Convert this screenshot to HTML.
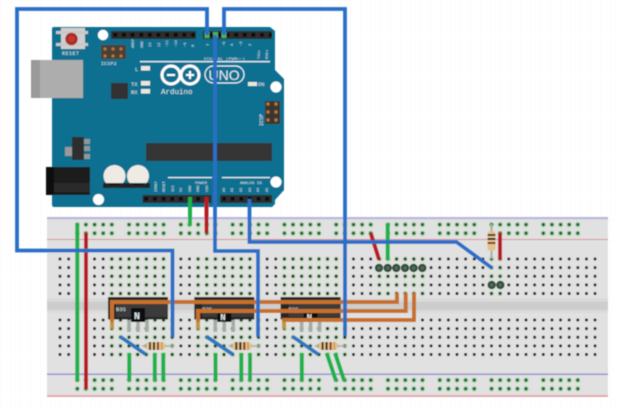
<!DOCTYPE html>
<html>
<head>
<meta charset="utf-8">
<style>
html,body{margin:0;padding:0;background:#fff;width:620px;height:408px;overflow:hidden}
svg{display:block}
text{font-family:"Liberation Mono",monospace;fill:#dfeaf0}
</style>
</head>
<body>
<svg width="620" height="408" viewBox="0 0 620 408" xmlns="http://www.w3.org/2000/svg">
<defs>
<filter id="b" x="-2%" y="-2%" width="104%" height="104%"><feGaussianBlur stdDeviation="0.45"/></filter>
<pattern id="bg" width="10" height="10" patternUnits="userSpaceOnUse"><path d="M10 0H0V10" fill="none" stroke="#f7f7f7" stroke-width="0.6"/></pattern>
<pattern id="hole" x="55.7" y="254.7" width="8.63" height="8.63" patternUnits="userSpaceOnUse"><circle cx="4.315" cy="4.315" r="1.5" fill="#1f2220"/></pattern>
<pattern id="holeB" x="55.7" y="315.7" width="8.63" height="8.63" patternUnits="userSpaceOnUse"><circle cx="4.315" cy="4.315" r="1.5" fill="#1f2220"/></pattern>
<pattern id="halo" x="55.7" y="254.7" width="8.63" height="8.63" patternUnits="userSpaceOnUse"><circle cx="4.315" cy="4.315" r="2.7" fill="#bcdcb8"/></pattern>
<pattern id="haloB" x="55.7" y="315.7" width="8.63" height="8.63" patternUnits="userSpaceOnUse"><circle cx="4.315" cy="4.315" r="2.7" fill="#bcdcb8"/></pattern>
<pattern id="rail" x="73" y="220.3" width="51.78" height="8.63" patternUnits="userSpaceOnUse">
<g id="rg"><circle cx="4.3" cy="4.3" r="2.5" fill="#86cb88"/><circle cx="12.9" cy="4.3" r="2.5" fill="#86cb88"/><circle cx="21.6" cy="4.3" r="2.5" fill="#86cb88"/><circle cx="30.2" cy="4.3" r="2.5" fill="#86cb88"/><circle cx="38.8" cy="4.3" r="2.5" fill="#86cb88"/>
<circle cx="4.3" cy="4.3" r="1.4" fill="#174a2a"/><circle cx="12.9" cy="4.3" r="1.4" fill="#174a2a"/><circle cx="21.6" cy="4.3" r="1.4" fill="#174a2a"/><circle cx="30.2" cy="4.3" r="1.4" fill="#174a2a"/><circle cx="38.8" cy="4.3" r="1.4" fill="#174a2a"/></g>
</pattern>
<pattern id="railB" x="73" y="375.8" width="51.78" height="8.63" patternUnits="userSpaceOnUse"><use href="#rg"/></pattern>
<pattern id="pin" x="111" y="31" width="8.63" height="8" patternUnits="userSpaceOnUse"><rect width="8.63" height="8" fill="#2e2e2e"/><rect x="2.4" y="2" width="3.8" height="3.8" fill="#0e0e0e"/></pattern>
<pattern id="pin2" x="142" y="195" width="8.63" height="8" patternUnits="userSpaceOnUse"><rect width="8.63" height="8" fill="#2e2e2e"/><rect x="2.4" y="2" width="3.8" height="3.8" fill="#0e0e0e"/></pattern>
</defs>
<rect width="620" height="408" fill="#fff"/>
<rect width="620" height="408" fill="url(#bg)"/>
<g filter="url(#b)">
<!-- breadboard -->
<rect x="47" y="217" width="561" height="180" fill="#e1e1e1"/>
<rect x="47" y="217" width="561" height="2.2" fill="#b9b6dc"/>
<rect x="47" y="239" width="561" height="1" fill="#d88f92"/>
<rect x="47" y="373.5" width="561" height="1.4" fill="#8f8fd0"/>
<rect x="47" y="395" width="561" height="2" fill="#e3a9ac"/>
<rect x="47" y="298" width="561" height="3.5" fill="#dadada"/>
<rect x="47" y="301.5" width="561" height="8.5" fill="#cdcdcd"/>
<rect x="47" y="310" width="561" height="3" fill="#dadada"/>
<rect x="73" y="220.3" width="507" height="17.3" fill="url(#rail)"/>
<rect x="73" y="375.8" width="507" height="17.3" fill="url(#railB)"/>
<g>
<rect x="108" y="254.7" width="60" height="43" fill="url(#halo)"/>
<rect x="194" y="254.7" width="60" height="43" fill="url(#halo)"/>
<rect x="280" y="254.7" width="60" height="43" fill="url(#halo)"/>
<rect x="375" y="254.7" width="51" height="43" fill="url(#halo)"/>
<rect x="487.5" y="254.7" width="17" height="43" fill="url(#halo)"/>
<rect x="108" y="315.7" width="69" height="43" fill="url(#haloB)"/>
<rect x="194" y="315.7" width="69" height="43" fill="url(#haloB)"/>
<rect x="280" y="315.7" width="69" height="43" fill="url(#haloB)"/>
</g>
<rect x="55.7" y="254.7" width="543.7" height="43.1" fill="url(#hole)"/>
<rect x="55.7" y="315.7" width="543.7" height="43.1" fill="url(#holeB)"/>

<!-- Arduino -->
<path d="M54 27H270L275 31V70L284 79V190L275 200V204L272 207H54Q52 207 52 204V29Q52 27 54 27Z" fill="#0f6f90"/>
<rect x="31" y="60" width="52" height="38" fill="#adadad"/>
<rect x="31" y="60" width="9" height="38" fill="#999"/>
<rect x="61" y="28" width="24" height="21" fill="#cfcfcf"/>
<rect x="56" y="31" width="32" height="3" fill="#c8c8c8"/><rect x="56" y="43" width="32" height="3" fill="#c8c8c8"/>
<circle cx="71.5" cy="39" r="6.2" fill="#a72a25"/><circle cx="71.5" cy="39" r="3.5" fill="#c8352e"/>
<text x="62" y="55" font-size="5" letter-spacing=".5">RESET</text>
<circle cx="103" cy="35" r="5.2" fill="#fff"/><circle cx="276" cy="87" r="5.5" fill="#fff"/><circle cx="276" cy="182" r="5.5" fill="#fff"/><circle cx="98.5" cy="199.5" r="5.5" fill="#fff"/>
<rect x="111" y="31" width="85" height="8" fill="url(#pin)"/>
<rect x="203" y="31" width="69" height="8" fill="url(#pin)"/>
<rect x="142.5" y="195" width="69" height="8" fill="url(#pin2)"/>
<rect x="220" y="195" width="52" height="8" fill="url(#pin2)"/>
<rect x="101" y="45" width="25" height="14" fill="#4b3f33"/>
<g fill="#b5763c"><circle cx="105" cy="49" r="1.6"/><circle cx="113" cy="49" r="1.6"/><circle cx="121" cy="49" r="1.6"/><circle cx="105" cy="56" r="1.6"/><circle cx="113" cy="56" r="1.6"/><circle cx="121" cy="56" r="1.6"/></g>
<text x="101" y="65" font-size="4.8" letter-spacing=".3">ICSP2</text>
<g font-size="3.8">
<text transform="translate(134,48) rotate(-90)">AREF</text><text transform="translate(143,48) rotate(-90)">GND</text><text transform="translate(151,47) rotate(-90)">13</text><text transform="translate(160,47) rotate(-90)">12</text><text transform="translate(168,47) rotate(-90)">~11</text><text transform="translate(177,47) rotate(-90)">~10</text><text transform="translate(186,47) rotate(-90)">~9</text><text transform="translate(194,47) rotate(-90)">8</text>
<text transform="translate(209,46) rotate(-90)">7</text><text transform="translate(225,46) rotate(-90)">~5</text><text transform="translate(233,46) rotate(-90)">4</text><text transform="translate(242,46) rotate(-90)">~3</text><text transform="translate(251,46) rotate(-90)">2</text><text transform="translate(260,59) rotate(-90)">TX1▸</text><text transform="translate(268,59) rotate(-90)">RX0◂</text>
</g>
<text x="204" y="60" font-size="4" letter-spacing=".35">DIGITAL (PWM=~)</text>
<rect x="140" y="61" width="130" height="1.3" fill="#e8f0f3"/>
<text x="135" y="71" font-size="5.5">L</text>
<rect x="141" y="66" width="9" height="4.5" fill="#e8e8e0"/>
<text x="131" y="86" font-size="5.5">TX</text><rect x="141" y="81" width="9" height="4.5" fill="#e8e8e0"/>
<text x="131" y="94" font-size="5.5">RX</text><rect x="141" y="89" width="9" height="4.5" fill="#e8e8e0"/>
<rect x="248" y="82" width="9" height="4" fill="#e8e8e0"/>
<text x="258" y="86" font-size="5.5">ON</text>
<rect x="111" y="83" width="17" height="16" fill="#333"/>
<circle cx="171" cy="75" r="9" fill="none" stroke="#fff" stroke-width="3"/>
<circle cx="190" cy="75" r="9" fill="none" stroke="#fff" stroke-width="3"/>
<rect x="167" y="74" width="8" height="2" fill="#fff"/>
<path d="M186 75h8M190 71v8" stroke="#fff" stroke-width="2"/>
<rect x="205" y="66" width="39" height="17" rx="8.5" fill="none" stroke="#e8f0f3" stroke-width="1.2"/>
<text x="208.5" y="80" font-size="14" style="font-family:'Liberation Sans',sans-serif" fill="#fff">UNO</text>
<text x="161" y="94" font-size="7.5" fill="#fff">Arduino</text>
<rect x="265" y="101" width="15" height="23" fill="#3b362f"/>
<g fill="#b5763c"><circle cx="268" cy="104" r="1.7"/><circle cx="276" cy="104" r="1.7"/><circle cx="268" cy="112" r="1.7"/><circle cx="276" cy="112" r="1.7"/><circle cx="268" cy="120" r="1.7"/><circle cx="276" cy="120" r="1.7"/></g>
<text transform="translate(263,126) rotate(-90)" font-size="5">ICSP</text>
<rect x="146" y="143" width="126" height="18" fill="#353535"/>
<rect x="65" y="147" width="8" height="9" fill="#9a9a9a"/>
<rect x="72" y="137" width="12" height="23" fill="#2f2f2f"/>
<rect x="84" y="139" width="6" height="5" fill="#8b9a99"/><rect x="84" y="146" width="6" height="5" fill="#8b9a99"/><rect x="84" y="154" width="6" height="5" fill="#8b9a99"/>
<rect x="46" y="167" width="44" height="28" fill="#1c1c1c"/>
<rect x="46" y="167" width="8" height="28" fill="#0c0c0c"/>
<rect x="54" y="183" width="36" height="9" fill="#2a2a2a"/>
<rect x="103" y="183" width="47" height="5" fill="#222"/>
<circle cx="114.5" cy="176" r="11" fill="#eeebe4"/><circle cx="138" cy="176" r="11" fill="#eeebe4"/>
<path d="M106 183A11 11 0 0 0 123 183Z" fill="#1b1b1b"/><path d="M129.500 183A11 11 0 0 0 146.500 183Z" fill="#1b1b1b"/>
<rect x="168" y="177" width="44" height="1.2" fill="#e8f0f3"/><rect x="222" y="177" width="48" height="1.2" fill="#e8f0f3"/>
<text x="195" y="184" font-size="4">POWER</text>
<text x="240" y="184" font-size="4">ANALOG IN</text>
<g font-size="3.6">
<text transform="translate(157,192) rotate(-90)">IOREF</text><text transform="translate(165,192) rotate(-90)">RESET</text><text transform="translate(174,192) rotate(-90)">3V3</text><text transform="translate(182,192) rotate(-90)">5V</text><text transform="translate(191,192) rotate(-90)">GND</text><text transform="translate(199,192) rotate(-90)">GND</text><text transform="translate(208,192) rotate(-90)">VIN</text>
<text transform="translate(225,192) rotate(-90)">A0</text><text transform="translate(233,192) rotate(-90)">A1</text><text transform="translate(242,192) rotate(-90)">A2</text><text transform="translate(251,192) rotate(-90)">A3</text><text transform="translate(259,192) rotate(-90)">A4</text><text transform="translate(268,192) rotate(-90)">A5</text>
</g>
<g fill="#4fb05a"><rect x="204.500" y="32" width="5" height="6"/><rect x="213" y="32" width="5" height="6"/><rect x="221.500" y="32" width="5" height="6"/></g>

<!-- transistors / ICs -->
<g>
<path d="M129 320V332M138 320V332M147 320V332" stroke="#a3aba8" stroke-width="3.5" fill="none"/>
<rect x="108" y="297" width="60" height="22.5" fill="#262626"/>
<rect x="116" y="303" width="52" height="14" fill="#3a3a3a"/>
<rect x="131" y="308" width="14" height="14" fill="#111"/>
<text x="134" y="319" font-size="10" font-weight="bold" fill="#ddd">N</text>
<text x="116" y="311" font-size="5.5" fill="#ddd">B3S</text>
</g>
<g transform="translate(86.300 0)">
<path d="M129 320V332M138 320V332M147 320V332" stroke="#a3aba8" stroke-width="3.5" fill="none"/>
<rect x="108" y="297" width="60" height="22.5" fill="#262626"/>
<rect x="116" y="303" width="52" height="14" fill="#3a3a3a"/>
<rect x="131" y="312" width="14" height="10" fill="#111"/>
<text x="134" y="320" font-size="9" font-weight="bold" fill="#ddd">N</text>
<text x="116" y="311" font-size="5.5" fill="#ddd">B3S</text>
</g>
<g transform="translate(172.600 0)">
<path d="M129 320V332M138 320V332M147 320V332" stroke="#a3aba8" stroke-width="3.5" fill="none"/>
<rect x="108" y="297" width="60" height="22.5" fill="#262626"/>
<rect x="116" y="303" width="52" height="14" fill="#3a3a3a"/>
<rect x="131" y="312" width="14" height="10" fill="#111"/>
<text x="134" y="320" font-size="9" font-weight="bold" fill="#ddd">N</text>
<text x="116" y="311" font-size="5.5" fill="#ddd">B3S</text>
</g>

<!-- orange wires -->
<g fill="none" stroke="#c8702c" stroke-width="4">
<path d="M112 329V302H397V293"/>
<path d="M198 329V311H405.700V293"/>
<path d="M284 329V320H414V293"/>
</g>
<g fill="none" stroke="#b99a3a" stroke-width="4"><path d="M112 322V329M198 322V329M284 322V329"/></g>

<!-- resistors -->
<g>
<path d="M142 346H174" stroke="#a9aca6" stroke-width="1.5"/>
<rect x="146" y="342" width="19" height="8" rx="3" fill="#e3c28f"/>
<rect x="149" y="342" width="2" height="8" fill="#4a2d16"/><rect x="153" y="342" width="2" height="8" fill="#231a12"/><rect x="157" y="342" width="2" height="8" fill="#8a3016"/><rect x="161" y="342" width="1.5" height="8" fill="#c99a40"/>
</g>
<g transform="translate(86.300 0)"><path d="M142 346H174" stroke="#a9aca6" stroke-width="1.5"/><rect x="146" y="342" width="19" height="8" rx="3" fill="#e3c28f"/><rect x="149" y="342" width="2" height="8" fill="#4a2d16"/><rect x="153" y="342" width="2" height="8" fill="#231a12"/><rect x="157" y="342" width="2" height="8" fill="#8a3016"/><rect x="161" y="342" width="1.5" height="8" fill="#c99a40"/></g>
<g transform="translate(172.600 0)"><path d="M142 346H174" stroke="#a9aca6" stroke-width="1.5"/><rect x="146" y="342" width="19" height="8" rx="3" fill="#e3c28f"/><rect x="149" y="342" width="2" height="8" fill="#4a2d16"/><rect x="153" y="342" width="2" height="8" fill="#231a12"/><rect x="157" y="342" width="2" height="8" fill="#8a3016"/><rect x="161" y="342" width="1.5" height="8" fill="#c99a40"/></g>
<path d="M491.500 224V259" stroke="#9fb0a0" stroke-width="2"/>
<rect x="487.500" y="231" width="8" height="20" rx="3" fill="#e3c28f"/>
<rect x="487.500" y="234" width="8" height="2" fill="#4a2d16"/><rect x="487.500" y="238" width="8" height="2" fill="#231a12"/><rect x="487.500" y="242" width="8" height="2" fill="#8a3016"/>

<!-- green / red wires -->
<g fill="none" stroke="#1fb14a" stroke-width="4">
<path d="M190 197V226"/>
<path d="M77.300 224V381"/>
<path d="M129.300 353V381M154.800 353V381M163.300 353V381"/>
<path d="M215.500 353V381M241.300 353V381M250 353V381"/>
<path d="M301.800 353V381"/>
<path d="M326.700 353L336 381M335 353L344.300 381"/>
<path d="M387.700 223.500V260"/>
</g>
<g fill="none" stroke="#b81f24" stroke-width="4">
<path d="M206.500 197V233"/>
<path d="M86 233V389"/>
<path d="M370.700 233L379 259.500"/>
<path d="M500 233V260"/>
</g>

<!-- short blue diagonals -->
<g fill="none" stroke="#2f78c0" stroke-width="3.8">
<path d="M120 336.500L146 354.500M206.300 336.500L233 354.500M292.600 336.500L318.500 354.500"/>
</g>

<!-- long blue wires -->
<g fill="none" stroke="#2a6ec8" stroke-width="3.8" stroke-linejoin="miter">
<path d="M207 35V9H17V250.500H172.500V337"/>
<path d="M224 35V9H345V336"/>
<path d="M215 35V251H258V337"/>
<path d="M249.500 199V242H456.500L492 268"/>
</g>

<!-- pin headers -->
<g fill="#2f4a38">
<circle cx="379" cy="268" r="4.2"/><circle cx="387.700" cy="268" r="4.2"/><circle cx="396.300" cy="268" r="4.2"/><circle cx="405" cy="268" r="4.2"/><circle cx="413.600" cy="268" r="4.2"/><circle cx="422.300" cy="268" r="4.2"/>
<circle cx="491.700" cy="285" r="4.2"/><circle cx="500.300" cy="285" r="4.2"/>
</g>
<g fill="#4d6b55">
<circle cx="379" cy="268" r="2"/><circle cx="387.700" cy="268" r="2"/><circle cx="396.300" cy="268" r="2"/><circle cx="405" cy="268" r="2"/><circle cx="413.600" cy="268" r="2"/><circle cx="422.300" cy="268" r="2"/>
<circle cx="491.700" cy="285" r="2"/><circle cx="500.300" cy="285" r="2"/>
</g>
</g>
</svg>
</body>
</html>
